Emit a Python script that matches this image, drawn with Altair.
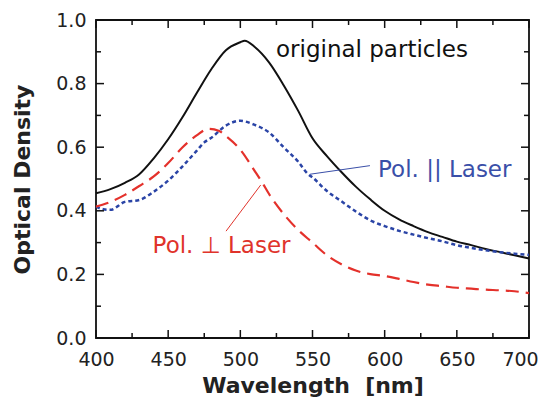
import altair as alt
import pandas as pd

# ---- data ----
wl_orig = [400, 410, 420, 430, 440, 450, 460, 470, 480, 490, 500, 503, 510, 520, 530, 540,
           550, 560, 570, 580, 590, 600, 610, 620, 630, 640, 650, 660, 670, 680, 690, 700]
od_orig = [0.455, 0.468, 0.488, 0.515, 0.565, 0.625, 0.695, 0.772, 0.846, 0.905, 0.930, 0.935,
           0.915, 0.866, 0.795, 0.715, 0.628, 0.572, 0.522, 0.476, 0.436, 0.400, 0.373, 0.352,
           0.333, 0.318, 0.303, 0.292, 0.280, 0.270, 0.260, 0.250]

wl_par = [400, 405, 410, 420, 430, 440, 450, 460, 470, 475, 480, 490, 500, 510, 520, 530, 540,
          547, 550, 560, 570, 580, 590, 600, 610, 620, 630, 640, 650, 660, 670, 680, 690, 700]
od_par = [0.413, 0.405, 0.403, 0.428, 0.434, 0.460, 0.495, 0.540, 0.590, 0.615, 0.630, 0.668,
          0.683, 0.670, 0.646, 0.600, 0.555, 0.515, 0.505, 0.462, 0.430, 0.398, 0.370, 0.352,
          0.337, 0.325, 0.314, 0.304, 0.292, 0.283, 0.276, 0.270, 0.265, 0.261]

wl_perp = [400, 410, 420, 430, 440, 450, 460, 470, 478, 485, 490, 500, 510, 515, 520, 530, 540,
           550, 560, 570, 580, 590, 600, 610, 620, 630, 640, 650, 660, 670, 680, 690, 700]
od_perp = [0.413, 0.428, 0.450, 0.478, 0.508, 0.550, 0.600, 0.638, 0.658, 0.652, 0.635, 0.592,
           0.525, 0.490, 0.452, 0.390, 0.340, 0.300, 0.260, 0.232, 0.212, 0.201, 0.195, 0.186,
           0.176, 0.168, 0.163, 0.158, 0.155, 0.152, 0.150, 0.147, 0.141]

ann_text = ["original particles", "Pol. || Laser", "Pol. \u22a5 Laser"]
ann_series = ["orig", "par", "perp"]
ann_x = [524.7, 595.4, 439.2]
ann_y = [0.883, 0.505, 0.267]

lead_series = ["par", "perp"]
lead_x1 = [589.8, 490.1]
lead_y1 = [0.542, 0.336]
lead_x2 = [548.3, 514.1]
lead_y2 = [0.515, 0.481]

x_major = [400, 450, 500, 550, 600, 650, 700]
x_minor = [425, 475, 525, 575, 625, 675]
y_major = [0.0, 0.2, 0.4, 0.6, 0.8, 1.0]
y_minor = [0.1, 0.3, 0.5, 0.7, 0.9]

series_names = ["orig", "par", "perp"]
series_colors = ["#111111", "#3a4fa8", "#e0332b"]

# ---- chart ----
FONT = "DejaVu Sans"
W, H = 433, 318
MAJ, MIN = 8, 5
X0, X1, Y0, Y1 = 400, 700, 0.0, 1.0
XS = alt.Scale(domain=[X0, X1], nice=False, zero=False)
YS = alt.Scale(domain=[Y0, Y1], nice=False, zero=False)
CS = alt.Scale(domain=series_names, range=series_colors)

AX_X = alt.Axis(
    orient="bottom", values=x_major, ticks=False, domain=False, grid=False,
    labelFont=FONT, labelFontSize=19, labelColor="#222222", labelPadding=12,
    labelFlush=False,
    labelOffset=alt.condition("datum.value == 700", alt.value(-9), alt.value(0)),
    title="Wavelength\u00a0 [nm]", titleFont=FONT,
    titleFontSize=22, titleFontWeight="bold", titleColor="#222222",
    titleX=216.5, titleY=54, titleBaseline="alphabetic", titleAlign="center")
AX_Y = alt.Axis(
    orient="left", values=y_major, format=".1f", ticks=False, domain=False, grid=False,
    labelFont=FONT, labelFontSize=19, labelColor="#222222", labelPadding=10,
    labelFlush=False, title="Optical Density", titleFont=FONT, titleFontSize=22,
    titleFontWeight="bold", titleColor="#222222", titleAngle=270,
    titleX=-67, titleY=159, titleBaseline="alphabetic", titleAlign="center")

df_orig = pd.DataFrame({"wl": wl_orig, "od": od_orig})
df_par = pd.DataFrame({"wl": wl_par, "od": od_par})
df_perp = pd.DataFrame({"wl": wl_perp, "od": od_perp})
df_ann = pd.DataFrame({"x": ann_x, "y": ann_y, "t": ann_text, "s": ann_series})

# leader lines and inward frame ticks share one rule layer
# (tick lengths converted into data units so they pass through the scales)
dy = {"maj": MAJ * (Y1 - Y0) / H, "min": MIN * (Y1 - Y0) / H}
dx = {"maj": MAJ * (X1 - X0) / W, "min": MIN * (X1 - X0) / W}
rows = []
for s, xa, ya, xb, yb in zip(lead_series, lead_x1, lead_y1, lead_x2, lead_y2):
    rows.append({"x": xa, "x2": xb, "y": ya, "y2": yb, "s": s, "w": 1.0})
for kind, vals in (("maj", x_major), ("min", x_minor)):
    for v in vals:
        rows.append({"x": v, "x2": v, "y": Y0, "y2": Y0 + dy[kind], "s": "orig", "w": 1.5})
        rows.append({"x": v, "x2": v, "y": Y1, "y2": Y1 - dy[kind], "s": "orig", "w": 1.5})
for kind, vals in (("maj", y_major), ("min", y_minor)):
    for v in vals:
        rows.append({"x": X0, "x2": X0 + dx[kind], "y": v, "y2": v, "s": "orig", "w": 1.5})
        rows.append({"x": X1, "x2": X1 - dx[kind], "y": v, "y2": v, "s": "orig", "w": 1.5})
df_rules = pd.DataFrame(rows)

black = alt.Chart(df_orig).mark_line(color="#111111", strokeWidth=2, interpolate="monotone").encode(
    x=alt.X("wl:Q", scale=XS, axis=AX_X),
    y=alt.Y("od:Q", scale=YS, axis=AX_Y),
)

blue = alt.Chart(df_par).mark_line(color="#2a44a6", strokeWidth=2.5, strokeDash=[4, 3],
                                   interpolate="monotone").encode(
    x=alt.X("wl:Q", scale=XS, axis=AX_X),
    y=alt.Y("od:Q", scale=YS, axis=AX_Y),
)

red = alt.Chart(df_perp).mark_line(color="#e4312b", strokeWidth=2.2, strokeDash=[13, 7],
                                   interpolate="monotone").encode(
    x=alt.X("wl:Q", scale=XS, axis=AX_X),
    y=alt.Y("od:Q", scale=YS, axis=AX_Y),
)

texts = alt.Chart(df_ann).mark_text(align="left", baseline="alphabetic", font=FONT,
                                    fontSize=23).encode(
    x=alt.X("x:Q", scale=XS, axis=AX_X),
    y=alt.Y("y:Q", scale=YS, axis=AX_Y),
    text="t:N",
    color=alt.Color("s:N", scale=CS, legend=None),
)

rules = alt.Chart(df_rules).mark_rule().encode(
    x=alt.X("x:Q", scale=XS, axis=AX_X),
    y=alt.Y("y:Q", scale=YS, axis=AX_Y),
    x2="x2:Q",
    y2="y2:Q",
    color=alt.Color("s:N", scale=CS, legend=None),
    strokeWidth=alt.StrokeWidth("w:Q", scale=None, legend=None),
)

chart = alt.layer(black, blue, red, texts, rules).properties(
    width=W, height=H,
    autosize=alt.AutoSizeParams(type="none"),
    padding={"left": 88, "top": 12, "right": 11, "bottom": 60},
    background="white",
).configure_view(stroke="#111111", strokeWidth=1.8)

chart.save("out.html", embed_options={"renderer": "svg", "actions": False})
